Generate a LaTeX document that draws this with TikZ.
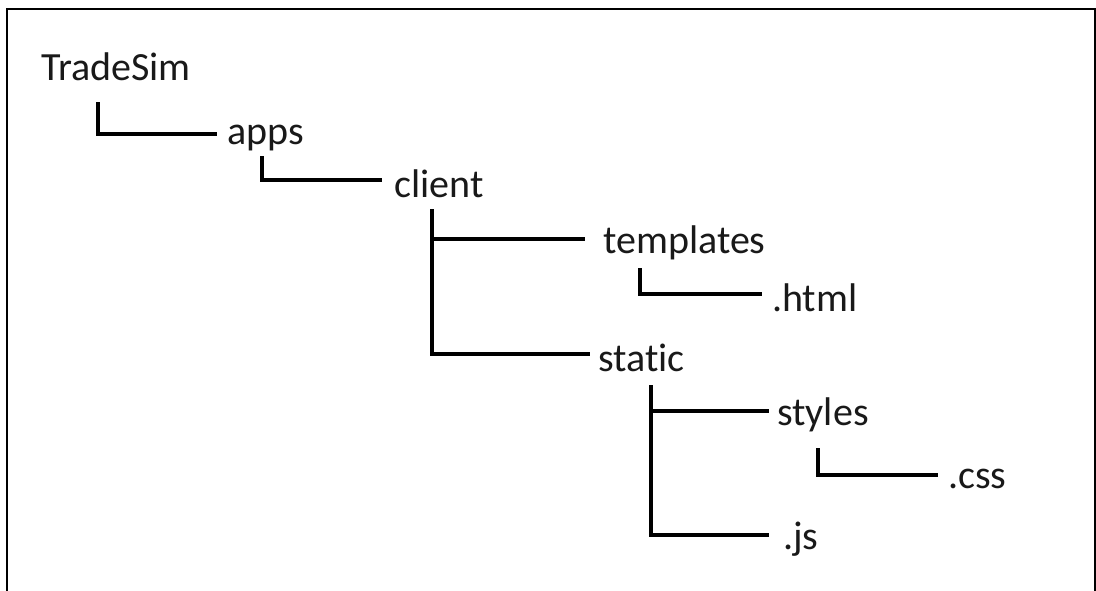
\documentclass[tikz,border=0pt]{standalone}
\usepackage{fontspec}
\setmainfont[Ligatures={NoCommon}]{Carlito}
\begin{document}
\begin{tikzpicture}[x=1pt,y=-1pt,
  lbl/.style={anchor=mid west,inner sep=0pt,yshift=-4pt,text=black!90,font=\fontsize{40}{44}\selectfont},
  conn/.style={line width=3.8pt,line cap=rect},
  frame/.style={line width=2.2pt}]
\useasboundingbox (0,0) rectangle (1096,590);
\draw[frame] (7,600) -- (7,9) -- (1095,9) -- (1095,600);
% labels
\node[lbl] (root) at (41,74) {TradeSim};
\node[lbl] (apps) at (227,138) {apps};
\node[lbl] (client) at (394,191) {client};
\node[lbl] (templates) at (603,247) {templates};
\node[lbl] (html) at (772,305) {.html};
\node[lbl] (static) at (598,365) {static};
\node[lbl] (styles) at (777,419) {styles};
\node[lbl] (css) at (948,482) {.css};
\node[lbl] (js) at (783,543) {.js};
% elbow coordinates
\coordinate (r0) at (98,104);
\coordinate (a0) at (262,158);
\coordinate (c0) at (432,211);
\coordinate (t0) at (640,270);
\coordinate (s0) at (651,387);
\coordinate (y0) at (818,450);
% line ends
\coordinate (eapps) at ([xshift=-12pt,yshift=4pt]apps.west);
\coordinate (eclient) at ([xshift=-14pt,yshift=4pt]client.west);
\coordinate (etempl) at ([xshift=-20pt,yshift=4pt]templates.west);
\coordinate (estatic) at ([xshift=-10pt,yshift=4pt]static.west);
\coordinate (ehtml) at ([xshift=-12pt,yshift=4pt]html.west);
\coordinate (estyles) at ([xshift=-10pt,yshift=4pt]styles.west);
\coordinate (ecss) at ([xshift=-12pt,yshift=4pt]css.west);
\coordinate (ejs) at ([xshift=-16pt,yshift=4pt]js.west);
% connectors
\draw[conn] (r0) |- (eapps);
\draw[conn] (a0) |- (eclient);
\draw[conn] (c0) |- (estatic);
\draw[conn] (c0 |- etempl) -- (etempl);
\draw[conn] (t0) |- (ehtml);
\draw[conn] (s0) |- (ejs);
\draw[conn] (s0 |- estyles) -- (estyles);
\draw[conn] (y0) |- (ecss);
\end{tikzpicture}
\end{document}
